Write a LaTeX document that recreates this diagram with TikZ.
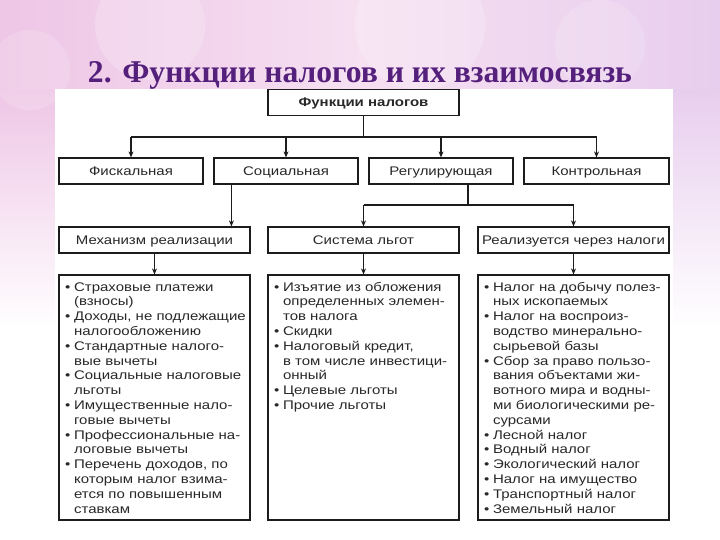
\documentclass[tikz,border=0pt]{standalone}
\usepackage{fontspec}
\setmainfont{Liberation Sans}
\newfontfamily\titlefont{Liberation Serif}
\usepackage{graphicx}
\usetikzlibrary{arrows.meta}
\definecolor{titlecol}{RGB}{84,32,124}
\definecolor{pinkbg}{RGB}{238,198,230}
\definecolor{lilacbg}{RGB}{232,206,238}
\definecolor{linecol}{RGB}{28,28,28}
\definecolor{txtcol}{RGB}{40,40,40}
\newcommand{\hs}[1]{\scalebox{1.2}[1]{#1}}
\tikzset{
 fbox/.style={draw=linecol, line width=1.2pt, fill=white, inner sep=0pt, minimum height=26pt, text height=8.9pt, text depth=0pt, text=txtcol, font=\fontsize{12.5}{14}\selectfont},
 lbox/.style={draw=linecol, line width=1.2pt, fill=white, inner sep=0pt, minimum width=191pt, minimum height=245pt},
 conn/.style={draw=linecol, line width=1.1pt},
 arr/.style={conn, -{Stealth[length=6pt,width=5pt]}},
 ltext/.style={anchor=base west, inner sep=0pt, text=txtcol, font=\fontsize{12.5}{14.8}\selectfont}
}
\begin{document}
\begin{tikzpicture}[x=1pt,y=-1pt]
\useasboundingbox (0,0) rectangle (720,540);
% background
\shade[left color=pinkbg, right color=lilacbg, middle color=pinkbg!55!white] (0,0) rectangle (720,540);
\shade[top color=pinkbg, bottom color=white] (0,90) rectangle (56,330);
\fill[white] (0,330) rectangle (56,540);
\shade[top color=lilacbg, bottom color=white] (672,90) rectangle (720,330);
\fill[white] (672,330) rectangle (720,540);
\fill[white, opacity=0.2] (150,25) circle (55);
\fill[white, opacity=0.2] (420,25) circle (65);
\fill[white, opacity=0.15] (600,45) circle (45);
\fill[white, opacity=0.15] (30,70) circle (40);
\fill[white] (55,89) rectangle (673,540);
% title
\node[anchor=base, text=titlecol, inner sep=0pt] (title) at (360,83)
  {\resizebox{544pt}{21pt}{\titlefont\bfseries\fontsize{30}{30}\selectfont 2. Функции налогов и их взаимосвязь}};
% boxes
\node[fbox, minimum width=191pt, font=\fontsize{12.5}{14}\selectfont\bfseries] (top) at (363.5,102.5) {\hs{Функции налогов}};
\node[fbox, minimum width=144pt] (fisk) at (131,171) {\hs{Фискальная}};
\node[fbox, minimum width=144pt] (soc) at (286,171) {\hs{Социальная}};
\node[fbox, minimum width=144pt] (reg) at (441,171) {\hs{Регулирующая}};
\node[fbox, minimum width=145pt] (kon) at (596.5,171) {\hs{Контрольная}};
\node[fbox, minimum width=191pt] (mech) at (154.5,240) {\hs{Механизм реализации}};
\node[fbox, minimum width=191pt] (sys) at (363.5,240) {\hs{Система льгот}};
\node[fbox, minimum width=191pt] (real) at (573.5,240) {\hs{Реализуется через налоги}};
\node[lbox] (list1) at (154.5,397.5) {};
\node[lbox] (list2) at (363.5,397.5) {};
\node[lbox] (list3) at (573.5,397.5) {};
% connectors
\coordinate (hub) at (363.5,137);
\draw[conn] (top.south) -- (hub);
\draw[conn] (fisk.north |- hub) -- (kon.north |- hub);
\foreach \n in {fisk,soc,reg,kon} \draw[arr] (\n.north |- hub) -- (\n.north);
\draw[arr] ([xshift=18pt]soc.south west) -- ([xshift=18pt]soc.south west |- mech.north);
\coordinate (rj) at (468,205);
\draw[conn] (reg.south -| rj) -- (rj);
\draw[conn] (sys.north |- rj) -- (real.north |- rj);
\draw[arr] (sys.north |- rj) -- (sys.north);
\draw[arr] (real.north |- rj) -- (real.north);
\draw[arr] (mech.south) -- (list1.north);
\draw[arr] (sys.south) -- (list2.north);
\draw[arr] (real.south) -- (list3.north);
% list texts
\node[ltext] (t1) at (65,291) {\hs{\begin{tabular}[t]{@{}l@{\hspace{3pt}}l@{}}
•&Страховые платежи\\ &(взносы)\\
•&Доходы, не подлежащие\\ &налогообложению\\
•&Стандартные налого-\\ &вые вычеты\\
•&Социальные налоговые\\ &льготы\\
•&Имущественные нало-\\ &говые вычеты\\
•&Профессиональные на-\\ &логовые вычеты\\
•&Перечень доходов, по\\ &которым налог взима-\\ &ется по повышенным\\ &ставкам
\end{tabular}}};
\node[ltext] (t2) at (274,291) {\hs{\begin{tabular}[t]{@{}l@{\hspace{3pt}}l@{}}
•&Изъятие из обложения\\ &определенных элемен-\\ &тов налога\\
•&Скидки\\
•&Налоговый кредит,\\ &в том числе инвестици-\\ &онный\\
•&Целевые льготы\\
•&Прочие льготы
\end{tabular}}};
\node[ltext] (t3) at (484,291) {\hs{\begin{tabular}[t]{@{}l@{\hspace{3pt}}l@{}}
•&Налог на добычу полез-\\ &ных ископаемых\\
•&Налог на воспроиз-\\ &водство минерально-\\ &сырьевой базы\\
•&Сбор за право пользо-\\ &вания объектами жи-\\ &вотного мира и водны-\\ &ми биологическими ре-\\ &сурсами\\
•&Лесной налог\\
•&Водный налог\\
•&Экологический налог\\
•&Налог на имущество\\
•&Транспортный налог\\
•&Земельный налог
\end{tabular}}};
\end{tikzpicture}
\end{document}
